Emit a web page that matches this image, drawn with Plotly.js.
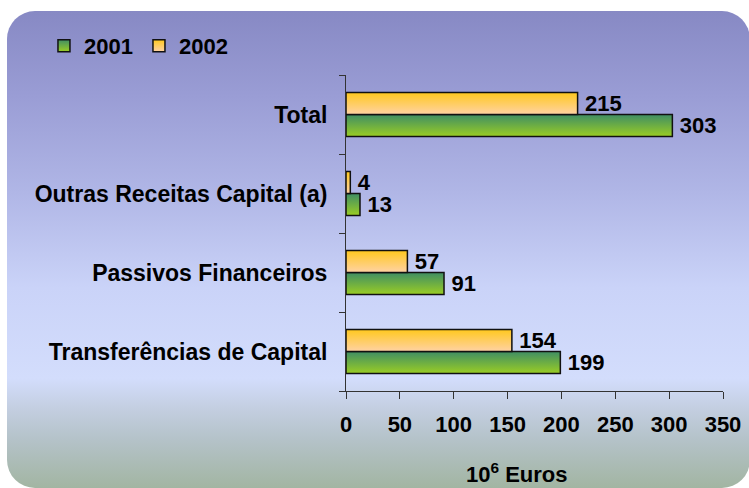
<!DOCTYPE html>
<html>
<head>
<meta charset="utf-8">
<script src="https://cdn.plot.ly/plotly-3.0.1.min.js"></script>
<style>
  html, body { margin: 0; padding: 0; background: #ffffff; width: 749px; height: 488px; overflow: hidden; }
  #bg {
    position: absolute; left: 7px; top: 11px; width: 743px; height: 477px;
    border-radius: 28px 28px 28px 28px;
    background: linear-gradient(to bottom,
      #8789c4 0%, #9a9dd5 18%, #b0b6e6 38%, #cad3f8 58%, #d3ddfc 77%,
      #c4cfe2 83%, #b4c2c8 90%, #a2b5a2 100%);
  }
  #chart { position: absolute; left: 0; top: 0; width: 749px; height: 488px; }
</style>
</head>
<body>
<div id="bg"></div>
<div id="chart"></div>
<script>
const categories = ['Transferências de Capital', 'Passivos Financeiros', 'Outras Receitas Capital (a)', 'Total'];
const values2001 = [199, 91, 13, 303];
const values2002 = [154, 57, 4, 215];
const seriesNames = ['2001', '2002'];
const xTicks = [0, 50, 100, 150, 200, 250, 300, 350];

const FONT = 'Liberation Sans, Arial, sans-serif';
const THIN = '\u2009';

const traces = [
  {
    type: 'bar', orientation: 'h', name: seriesNames[0],
    y: categories, x: values2001,
    text: values2001.map(v => THIN + v), textposition: 'outside', constraintext: 'none', cliponaxis: false,
    textfont: { family: FONT, size: 22, weight: 'bold', color: '#000' },
    marker: { color: '#6eaf44', line: { color: '#111', width: 1.5 } },
    hoverinfo: 'none'
  },
  {
    type: 'bar', orientation: 'h', name: seriesNames[1],
    y: categories, x: values2002,
    text: values2002.map(v => THIN + v), textposition: 'outside', constraintext: 'none', cliponaxis: false,
    textfont: { family: FONT, size: 22, weight: 'bold', color: '#000' },
    marker: { color: '#ffcc66', line: { color: '#111', width: 1.5 } },
    hoverinfo: 'none'
  }
];

const layout = {
  width: 749, height: 488,
  paper_bgcolor: 'rgba(0,0,0,0)', plot_bgcolor: 'rgba(0,0,0,0)',
  margin: { l: 346, r: 26, t: 75, b: 97, pad: 0 },
  barmode: 'group', bargap: 0.443, bargroupgap: 0,
  font: { family: FONT, size: 21, color: '#000', weight: 'bold' },
  showlegend: true,
  legend: {
    orientation: 'h', xref: 'container', yref: 'container',
    x: 0.0587, y: 0.906, xanchor: 'left', yanchor: 'middle',
    itemgap: 0, entrywidth: 50, entrywidthmode: 'pixels', traceorder: 'normal',
    bgcolor: 'rgba(0,0,0,0)',
    font: { family: FONT, size: 22, weight: 'bold', color: '#000' }
  },
  xaxis: {
    range: [0, 350], tickvals: xTicks, ticktext: xTicks.map(String),
    showgrid: false, zeroline: false, showline: true, linecolor: '#333', linewidth: 1,
    ticks: 'outside', ticklen: 7, tickcolor: '#333', tickwidth: 1,
    ticklabelstandoff: 7,
    tickfont: { family: FONT, size: 22, weight: 'bold', color: '#000' },
    fixedrange: true
  },
  yaxis: {
    type: 'category', categoryorder: 'array', categoryarray: categories,
    range: [-0.5, 3.5],
    showgrid: false, zeroline: false, showline: true, linecolor: '#333', linewidth: 1,
    ticks: 'outside', ticklen: 6, tickcolor: '#333', tickwidth: 1, tickson: 'boundaries',
    ticklabelstandoff: 13,
    tickfont: { family: FONT, size: 23, weight: 'bold', color: '#000' },
    fixedrange: true
  },
  annotations: [{
    text: '10<sup>6</sup> Euros', xref: 'paper', yref: 'paper',
    x: 0.4536, y: -0.259, xanchor: 'center', yanchor: 'middle', showarrow: false,
    font: { family: FONT, size: 22, weight: 'bold', color: '#000' }
  }]
};

Plotly.newPlot('chart', traces, layout, { staticPlot: true, displayModeBar: false }).then(function (gd) {
  const svg = gd.querySelector('svg.main-svg');
  const ns = 'http://www.w3.org/2000/svg';
  let defs = svg.querySelector('defs');
  if (!defs) { defs = document.createElementNS(ns, 'defs'); svg.insertBefore(defs, svg.firstChild); }
  function addGrad(id, top, bottom) {
    const g = document.createElementNS(ns, 'linearGradient');
    g.setAttribute('id', id);
    g.setAttribute('x1', '0'); g.setAttribute('y1', '0');
    g.setAttribute('x2', '0'); g.setAttribute('y2', '1');
    [[0, top], [1, bottom]].forEach(function (s) {
      const st = document.createElementNS(ns, 'stop');
      st.setAttribute('offset', s[0]);
      st.setAttribute('stop-color', s[1]);
      g.appendChild(st);
    });
    defs.appendChild(g);
  }
  addGrad('gGreen', '#3f8e64', '#9acd24');
  addGrad('gOrange', '#ffc81e', '#ffd2a4');
  const grads = ['url(#gGreen)', 'url(#gOrange)'];
  gd.querySelectorAll('g.barlayer g.trace').forEach(function (tr, i) {
    tr.querySelectorAll('g.point path').forEach(function (p) { p.style.fill = grads[i]; });
  });
  gd.querySelectorAll('g.legend g.traces').forEach(function (tr, i) {
    tr.querySelectorAll('g.legendpoints path').forEach(function (p) { p.style.fill = grads[i]; });
  });
});
</script>
</body>
</html>
